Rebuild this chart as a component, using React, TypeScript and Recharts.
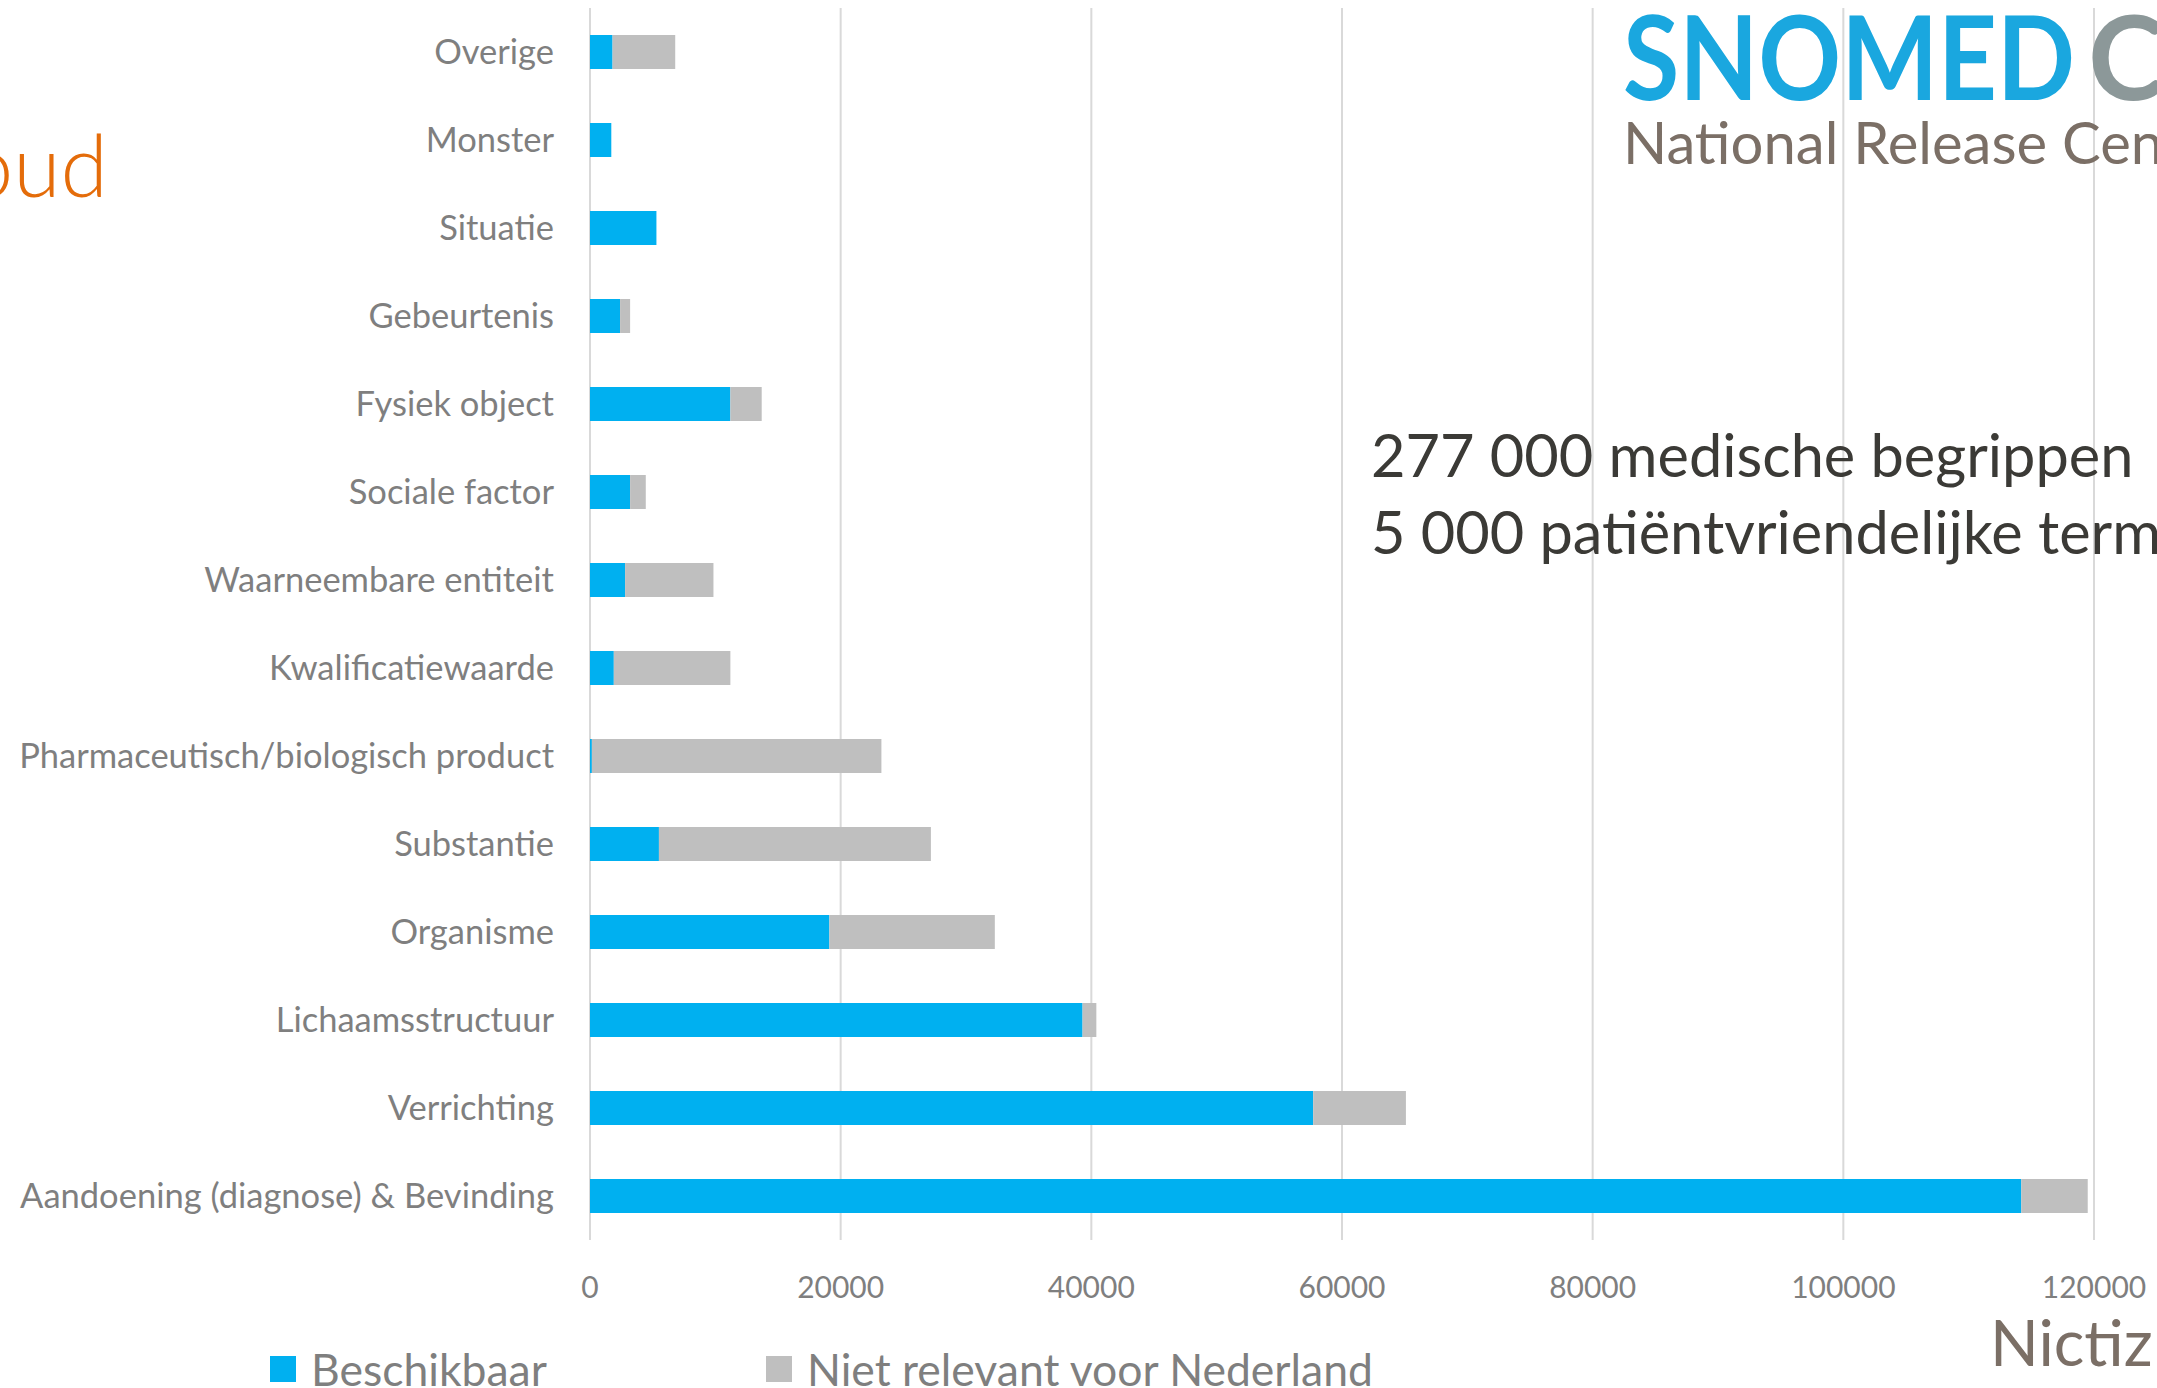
import React from "react";
import { BarChart, Bar, XAxis, YAxis, CartesianGrid, Legend } from "recharts";

// Categories from top to bottom
const categories = [
  "Overige",
  "Monster",
  "Situatie",
  "Gebeurtenis",
  "Fysiek object",
  "Sociale factor",
  "Waarneembare entiteit",
  "Kwalificatiewaarde",
  "Pharmaceutisch/biologisch product",
  "Substantie",
  "Organisme",
  "Lichaamsstructuur",
  "Verrichting",
  "Aandoening (diagnose) & Bevinding",
];

const beschikbaar = [1800, 1700, 5300, 2400, 11200, 3200, 2800, 1900, 150, 5500, 19100, 39300, 57700, 114200];
const nietRelevant = [5000, 0, 0, 800, 2500, 1250, 7050, 9300, 23100, 21700, 13200, 1100, 7400, 5300];

const xTicks = [0, 20000, 40000, 60000, 80000, 100000, 120000];

const FONT = "Lato, 'Open Sans', sans-serif";
const LABEL = "#7F7F7F";

const data = categories.map((name, i) => ({
  name,
  beschikbaar: beschikbaar[i],
  niet: nietRelevant[i],
}));

function LegendContent(props: any) {
  const payload = props.payload || [];
  return (
    <div style={{ display: "flex", fontFamily: FONT, whiteSpace: "nowrap" }}>
      {payload.map((p: any, i: number) => (
        <div key={i} style={{ display: "flex", alignItems: "center", width: 496, flexShrink: 0 }}>
          <span style={{ width: 26, height: 26, background: p.color, display: "inline-block", marginRight: 15, flexShrink: 0 }} />
          <span style={{ fontSize: 44.5, color: LABEL, lineHeight: "48px" }}>{p.value}</span>
        </div>
      ))}
    </div>
  );
}

export default function App() {
  return (
    <div style={{ position: "absolute", left: 0, top: 0, width: 2157, height: 1388, overflow: "hidden", background: "#fff" }}>
      <BarChart
        width={2157}
        height={1388}
        data={data}
        layout="vertical"
        margin={{ top: 8, right: 63, bottom: 88, left: 0 }}
        barSize={34}
      >
        <CartesianGrid horizontal={false} stroke="#D9D9D9" strokeWidth={2} />
        <XAxis
          type="number"
          domain={[0, 120000]}
          ticks={xTicks}
          interval={0}
          axisLine={false}
          tickLine={false}
          tickSize={0}
          tickMargin={37}
          height={60}
          tick={{ fontSize: 30, fill: LABEL, fontFamily: FONT }}
        />
        <YAxis
          type="category"
          dataKey="name"
          width={590}
          interval={0}
          axisLine={false}
          tickLine={false}
          tickSize={0}
          tickMargin={36}
          tick={{ fontSize: 34.5, fill: LABEL, fontFamily: FONT }}
        />
        <Bar dataKey="beschikbaar" stackId="a" fill="#00B0F0" name="Beschikbaar" isAnimationActive={false} />
        <Bar dataKey="niet" stackId="a" fill="#BFBFBF" name="Niet relevant voor Nederland" isAnimationActive={false} />
        <Legend
          layout="horizontal"
          verticalAlign="middle"
          align="center"
          content={LegendContent}
          wrapperStyle={{ left: 270, top: 1345, width: 1200 }}
        />
      </BarChart>

      {/* slide decorations */}
      <svg width={2157} height={1388} style={{ position: "absolute", left: 0, top: 0, pointerEvents: "none" }}>
        <text x={108} y={197} textAnchor="end" fontFamily={FONT} fontWeight={300} fontSize={86} fill="#E46C0A">
          oud
        </text>
        <text x={1623} y={100} fontFamily={FONT} fontWeight={700} fontSize={117} fill="#1AA7DF" textLength={452} lengthAdjust="spacingAndGlyphs">
          SNOMED
        </text>
        <text x={2088} y={100} fontFamily={FONT} fontWeight={700} fontSize={117} fill="#8C9899">
          C
        </text>
        <text x={1623} y={164} fontFamily={FONT} fontSize={58} fill="#7B6F66">
          National Release Cen
        </text>
        <text x={1371} y={477} fontFamily={FONT} fontSize={59.5} fill="#3B3A36">
          277 000 medische begrippen
        </text>
        <text x={1371} y={554} fontFamily={FONT} fontSize={59.5} fill="#3B3A36">
          5 000 patiëntvriendelijke term
        </text>
        <text x={1990} y={1366} fontFamily={FONT} fontSize={64} fill="#7B6F66">
          Nictiz
        </text>
      </svg>
    </div>
  );
}
